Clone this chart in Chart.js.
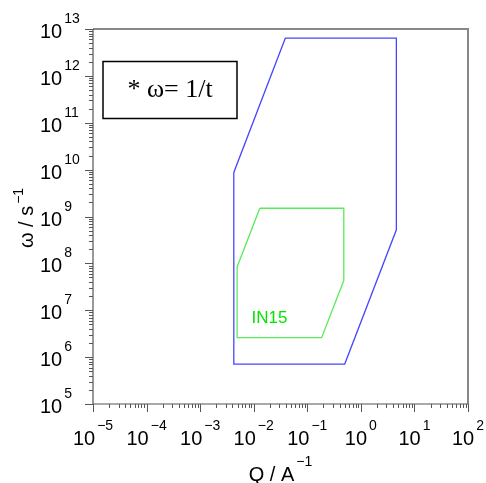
<!DOCTYPE html>
<html>
<head>
<meta charset="utf-8">
<script src="https://cdn.jsdelivr.net/npm/chart.js@4"></script>
<style>
  html, body { margin: 0; background: #fff; }
</style>
</head>
<body>
<canvas id="chart" width="486" height="483"></canvas>
<script>
// polygon outlines (Q in 1/A, omega in 1/s), closed by repeating first point
const blueQ      = [0.039, 4.6, 4.6, 0.5, 0.00425, 0.00425, 0.039];
const blueOmega  = [6.4e12, 6.4e12, 5.2e8, 7.1e5, 7.1e5, 8.7e9, 6.4e12];
const greenQ     = [0.013, 0.48, 0.48, 0.185, 0.0049, 0.0049, 0.013];
const greenOmega = [1.5e9, 1.5e9, 4.3e7, 2.6e6, 2.6e6, 8.4e7, 1.5e9];

const xExponents = [-5, -4, -3, -2, -1, 0, 1, 2];
const yExponents = [5, 6, 7, 8, 9, 10, 11, 12, 13];

const labelText = 'IN15';
const labelQ = 0.0197;
const labelOmega = 6.6e6;
const noteText = '* \u03c9= 1/t';

function toPoints(xs, ys) {
    return xs.map((x, i) => ({ x: x, y: ys[i] }));
}

const SANS = '"Liberation Sans", Arial, sans-serif';
const SERIF = '"Liberation Serif", "Times New Roman", serif';
const MINUS = '\u2212';

function powLabelWidth(ctx, exp) {
    ctx.font = '20px ' + SANS;
    let w = ctx.measureText('10').width;
    ctx.font = '14px ' + SANS;
    w += 2 + ctx.measureText(String(exp).replace('-', MINUS)).width;
    return w;
}

function drawPow(ctx, x, base, exp) {
    ctx.textAlign = 'left';
    ctx.textBaseline = 'alphabetic';
    ctx.font = '20px ' + SANS;
    ctx.fillText('10', x, base);
    let w = ctx.measureText('10').width;
    ctx.font = '14px ' + SANS;
    ctx.fillText(String(exp).replace('-', MINUS), x + w + 2, base - 15);
}

const decorations = {
    id: 'decorations',
    afterDraw(chart) {
        const ctx = chart.ctx;
        const area = chart.chartArea;
        const xs = chart.scales.x;
        const ys = chart.scales.y;
        ctx.save();

        // frame: top and right
        ctx.strokeStyle = '#888';
        ctx.lineWidth = 2;
        ctx.beginPath();
        ctx.moveTo(area.left, area.top);
        ctx.lineTo(area.right, area.top);
        ctx.lineTo(area.right, area.bottom);
        ctx.stroke();

        // axes lines
        ctx.strokeStyle = '#555';
        ctx.lineWidth = 1.2;
        ctx.beginPath();
        ctx.moveTo(area.left, area.top);
        ctx.lineTo(area.left, area.bottom);
        ctx.lineTo(area.right, area.bottom);
        ctx.stroke();

        // ticks
        ctx.lineWidth = 1;
        ctx.beginPath();
        xExponents.forEach((e, i) => {
            const px = Math.round(xs.getPixelForValue(Math.pow(10, e))) + 0.5;
            ctx.moveTo(px, area.bottom);
            ctx.lineTo(px, area.bottom + 8);
            if (i < xExponents.length - 1) {
                for (let m = 2; m <= 9; m++) {
                    const mx = Math.round(xs.getPixelForValue(m * Math.pow(10, e))) + 0.5;
                    ctx.moveTo(mx, area.bottom);
                    ctx.lineTo(mx, area.bottom + 4);
                }
            }
        });
        yExponents.forEach((e, i) => {
            const py = Math.round(ys.getPixelForValue(Math.pow(10, e))) + 0.5;
            ctx.moveTo(area.left, py);
            ctx.lineTo(area.left - 8, py);
            if (i < yExponents.length - 1) {
                for (let m = 2; m <= 9; m++) {
                    const my = Math.round(ys.getPixelForValue(m * Math.pow(10, e))) + 0.5;
                    ctx.moveTo(area.left, my);
                    ctx.lineTo(area.left - 4, my);
                }
            }
        });
        ctx.stroke();

        // tick labels
        ctx.fillStyle = '#000';
        xExponents.forEach(e => {
            const px = xs.getPixelForValue(Math.pow(10, e));
            const w = powLabelWidth(ctx, e);
            drawPow(ctx, px - w / 2, 445, e);
        });
        yExponents.forEach(e => {
            const py = ys.getPixelForValue(Math.pow(10, e));
            drawPow(ctx, 40, py + 9, e);
        });

        // x title
        ctx.font = '20px ' + SANS;
        let tw = ctx.measureText('Q / A').width;
        ctx.font = '14px ' + SANS;
        let ew = ctx.measureText(MINUS + '1').width;
        let cx = (area.left + area.right) / 2;
        let sx = cx - (tw + 2 + ew) / 2;
        ctx.font = '20px ' + SANS;
        ctx.textAlign = 'left';
        ctx.fillText('Q / A', sx, 481);
        ctx.font = '14px ' + SANS;
        ctx.fillText(MINUS + '1', sx + tw + 2, 466);

        // y title
        ctx.save();
        ctx.translate(33, 218);
        ctx.rotate(-Math.PI / 2);
        ctx.font = '20px ' + SANS;
        tw = ctx.measureText('\u03c9 / s').width;
        ctx.font = '14px ' + SANS;
        ew = ctx.measureText(MINUS + '1').width;
        sx = -(tw + 2 + ew) / 2;
        ctx.font = '20px ' + SANS;
        ctx.fillText('\u03c9 / s', sx, 0);
        ctx.font = '14px ' + SANS;
        ctx.fillText(MINUS + '1', sx + tw + 2, -10);
        ctx.restore();

        // note box
        ctx.strokeStyle = '#000';
        ctx.lineWidth = 1.5;
        ctx.strokeRect(103, 61.5, 134, 57);
        ctx.font = '26px ' + SERIF;
        ctx.textAlign = 'center';
        ctx.textBaseline = 'middle';
        ctx.fillText(noteText, 170, 90);

        // instrument label
        ctx.fillStyle = '#00e600';
        ctx.font = '17px ' + SANS;
        ctx.fillText(labelText, xs.getPixelForValue(labelQ), ys.getPixelForValue(labelOmega));

        ctx.restore();
    }
};

new Chart(document.getElementById('chart'), {
    type: 'line',
    data: {
        datasets: [
            {
                label: 'all',
                data: toPoints(blueQ, blueOmega),
                borderColor: 'rgb(70, 70, 255)',
                borderWidth: 1.3,
                pointRadius: 0,
                fill: false,
                tension: 0
            },
            {
                label: labelText,
                data: toPoints(greenQ, greenOmega),
                borderColor: 'rgb(90, 235, 90)',
                borderWidth: 1.3,
                pointRadius: 0,
                fill: false,
                tension: 0
            }
        ]
    },
    options: {
        responsive: false,
        animation: false,
        layout: { padding: { top: 29, right: 18, left: 0, bottom: 0 } },
        plugins: { legend: { display: false }, tooltip: { enabled: false } },
        scales: {
            x: {
                type: 'logarithmic',
                min: 1e-5,
                max: 1e2,
                grid: { display: false },
                border: { display: false },
                ticks: { display: false },
                afterFit: s => { s.height = 79; }
            },
            y: {
                type: 'logarithmic',
                min: 1e5,
                max: 1e13,
                grid: { display: false },
                border: { display: false },
                ticks: { display: false },
                afterFit: s => { s.width = 93; }
            }
        }
    },
    plugins: [decorations]
});
</script>
</body>
</html>
